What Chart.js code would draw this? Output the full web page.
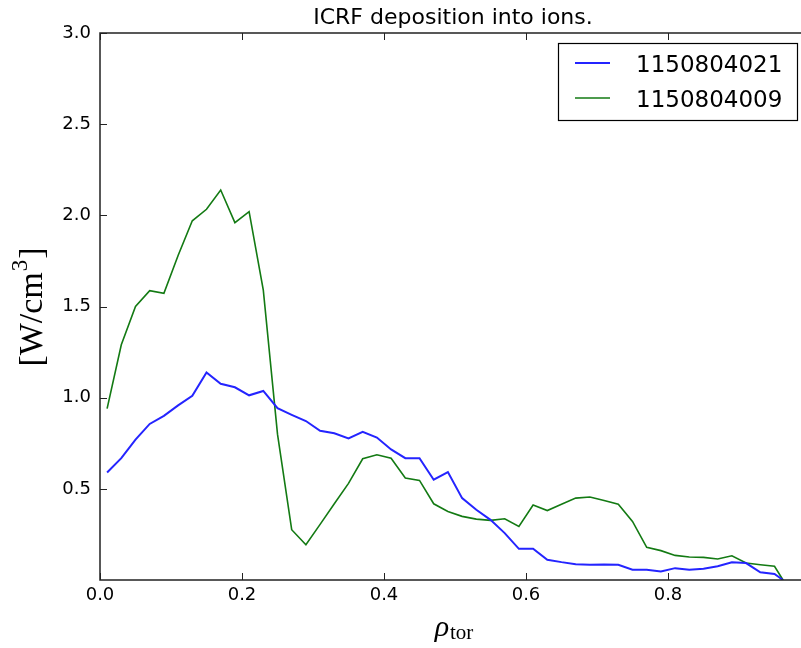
<!DOCTYPE html>
<html>
<head>
<meta charset="utf-8">
<script src="https://cdn.jsdelivr.net/npm/chart.js@4"></script>
<style>
  html, body { margin: 0; padding: 0; background: #fff; }
  #wrap { width: 801px; height: 648px; overflow: hidden; }
</style>
</head>
<body>
<div id="wrap"><canvas id="grafico" width="820" height="648"></canvas></div>
<script>
// rho_tor positions of the profile points
const rho = [0.01, 0.03, 0.05, 0.07, 0.09, 0.11, 0.13, 0.15, 0.17, 0.19,
             0.21, 0.23, 0.25, 0.27, 0.29, 0.31, 0.33, 0.35, 0.37, 0.39,
             0.41, 0.43, 0.45, 0.47, 0.49, 0.51, 0.53, 0.55, 0.57, 0.59,
             0.61, 0.63, 0.65, 0.67, 0.69, 0.71, 0.73, 0.75, 0.77, 0.79,
             0.81, 0.83, 0.85, 0.87, 0.89, 0.91, 0.93, 0.95, 0.962];

const shot021 = [0.59, 0.668, 0.77, 0.856, 0.9, 0.958, 1.01, 1.138, 1.076, 1.057,
                 1.013, 1.037, 0.942, 0.906, 0.872, 0.818, 0.805, 0.777, 0.812, 0.781,
                 0.716, 0.668, 0.668, 0.55, 0.592, 0.449, 0.385, 0.33, 0.257, 0.171,
                 0.171, 0.111, 0.098, 0.087, 0.084, 0.085, 0.084, 0.056, 0.056, 0.047,
                 0.065, 0.056, 0.062, 0.075, 0.097, 0.093, 0.042, 0.033, 0.0];

const shot009 = [0.94, 1.29, 1.5, 1.587, 1.572, 1.78, 1.97, 2.033, 2.139, 1.96,
                 2.02, 1.59, 0.8, 0.276, 0.193, 0.305, 0.418, 0.53, 0.665, 0.687,
                 0.668, 0.559, 0.546, 0.418, 0.376, 0.349, 0.334, 0.327, 0.336, 0.294,
                 0.411, 0.381, 0.416, 0.449, 0.455, 0.436, 0.416, 0.321, 0.179, 0.161,
                 0.135, 0.126, 0.124, 0.115, 0.133, 0.093, 0.084, 0.075, 0.0];

const labels = ["1150804021", "1150804009"];
const cores = ["#2424ff", "#137a13"];
const xTicks = [0.0, 0.2, 0.4, 0.6, 0.8];
const yTicks = [0.5, 1.0, 1.5, 2.0, 2.5, 3.0];
const titulo = "ICRF deposition into ions.";

const pontos = (ys) => rho.map((x, i) => ({ x: x, y: ys[i] }));

// frame, inward ticks, title, axis labels and legend in matplotlib style
const decor = {
    id: 'decor',
    afterDraw(chart) {
        const { ctx, chartArea: a, scales: { x, y } } = chart;
        ctx.save();

        ctx.strokeStyle = '#222';
        ctx.lineWidth = 1.5;
        ctx.strokeRect(a.left, a.top, a.right - a.left, a.bottom - a.top);

        ctx.lineWidth = 1;
        ctx.beginPath();
        xTicks.forEach(v => {
            const px = Math.round(x.getPixelForValue(v)) + 0.5;
            ctx.moveTo(px, a.bottom); ctx.lineTo(px, a.bottom - 7);
            ctx.moveTo(px, a.top); ctx.lineTo(px, a.top + 7);
        });
        yTicks.forEach(v => {
            const py = Math.round(y.getPixelForValue(v)) + 0.5;
            ctx.moveTo(a.left, py); ctx.lineTo(a.left + 7, py);
            ctx.moveTo(a.right, py); ctx.lineTo(a.right - 7, py);
        });
        ctx.stroke();

        // title
        ctx.fillStyle = '#000';
        ctx.font = '22px "DejaVu Sans"';
        ctx.textAlign = 'center';
        ctx.textBaseline = 'alphabetic';
        ctx.fillText(titulo, (a.left + a.right) / 2 - 2, 24);

        // x label: rho_tor
        ctx.textAlign = 'left';
        const fRho = 'italic 30px "Liberation Serif"';
        const fSub = '21px "Liberation Serif"';
        ctx.font = fRho;
        const wRho = ctx.measureText('ρ').width;
        ctx.font = fSub;
        const wSub = ctx.measureText('tor').width;
        let sx = 454 - (wRho + wSub + 1) / 2;
        ctx.font = fRho;
        ctx.fillText('ρ', sx, 636);
        ctx.font = fSub;
        ctx.fillText('tor', sx + wRho + 1, 639);

        // y label: [W/cm^3]
        ctx.save();
        ctx.translate(42, 307);
        ctx.rotate(-Math.PI / 2);
        const fMain = '34px "Liberation Serif"';
        const fSup = '23px "Liberation Serif"';
        ctx.font = fMain;
        const w1 = ctx.measureText('[W/cm').width;
        const w3 = ctx.measureText(']').width;
        ctx.font = fSup;
        const w2 = ctx.measureText('3').width;
        let ox = -(w1 + w2 + w3 + 2) / 2;
        ctx.font = fMain;
        ctx.fillText('[W/cm', ox, 0);
        ctx.font = fSup;
        ctx.fillText('3', ox + w1 + 1, -15);
        ctx.font = fMain;
        ctx.fillText(']', ox + w1 + w2 + 2, 0);
        ctx.restore();

        // legend
        ctx.fillStyle = '#fff';
        ctx.fillRect(558, 43, 239, 77);
        ctx.strokeStyle = '#000';
        ctx.lineWidth = 1.2;
        ctx.strokeRect(558.5, 43.5, 239, 77);
        ctx.font = '23px "DejaVu Sans"';
        ctx.fillStyle = '#000';
        chart.data.datasets.forEach((ds, i) => {
            const ly = 63 + i * 35;
            ctx.strokeStyle = ds.borderColor;
            ctx.lineWidth = ds.borderWidth;
            ctx.beginPath();
            ctx.moveTo(575, ly); ctx.lineTo(610, ly);
            ctx.stroke();
            ctx.fillText(ds.label, 636, ly + 9);
        });

        ctx.restore();
    }
};

const config = {
    type: 'line',
    data: {
        datasets: [{
            label: labels[0],
            data: pontos(shot021),
            borderColor: cores[0],
            borderWidth: 2,
            pointRadius: 0,
            tension: 0
        }, {
            label: labels[1],
            data: pontos(shot009),
            borderColor: cores[1],
            borderWidth: 1.6,
            pointRadius: 0,
            tension: 0
        }]
    },
    plugins: [decor],
    options: {
        responsive: false,
        animation: false,
        devicePixelRatio: 1,
        layout: { padding: { top: 33, right: 10, left: 0, bottom: 0 } },
        plugins: {
            legend: { display: false },
            title: { display: false },
            tooltip: { enabled: false }
        },
        scales: {
            x: {
                type: 'linear',
                min: 0,
                max: 1.0,
                grid: { display: false, drawTicks: false },
                border: { display: false },
                afterBuildTicks: s => { s.ticks = xTicks.map(v => ({ value: v })); },
                afterFit: s => { s.height = 68; },
                ticks: {
                    color: '#000',
                    font: { family: 'DejaVu Sans', size: 18 },
                    padding: 5,
                    maxRotation: 0,
                    callback: v => v.toFixed(1)
                }
            },
            y: {
                type: 'linear',
                min: 0,
                max: 3.0,
                grid: { display: false, drawTicks: false },
                border: { display: false },
                afterBuildTicks: s => { s.ticks = yTicks.map(v => ({ value: v })); },
                afterFit: s => { s.width = 100; },
                ticks: {
                    color: '#000',
                    font: { family: 'DejaVu Sans', size: 18 },
                    padding: 9,
                    callback: v => v.toFixed(1)
                }
            }
        }
    }
};

new Chart(document.getElementById("grafico"), config);
</script>
</body>
</html>
